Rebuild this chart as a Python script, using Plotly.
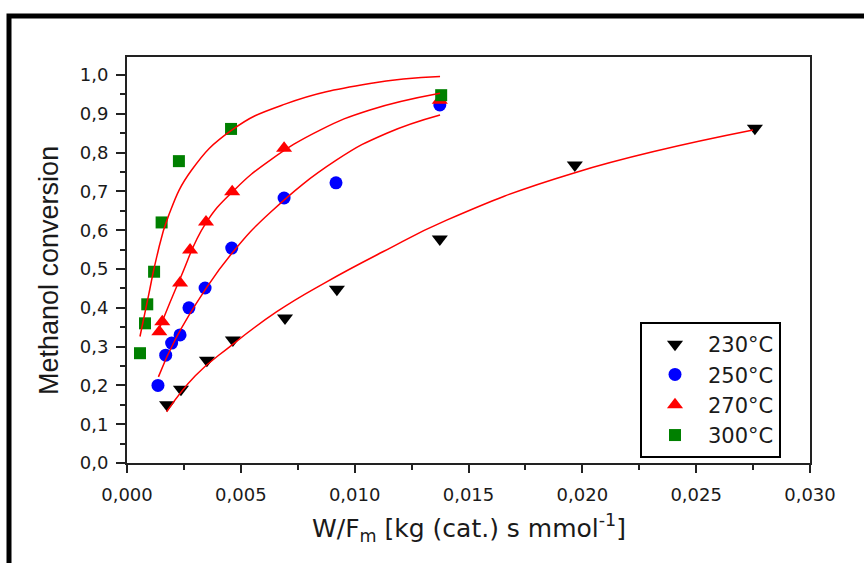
import plotly.graph_objects as go

# ---- data ----
x230 = [0.00176, 0.00237, 0.00351, 0.00465, 0.00694, 0.00922, 0.01374, 0.01967, 0.02758]
y230 = [0.150, 0.190, 0.265, 0.317, 0.374, 0.448, 0.577, 0.768, 0.863]

x250 = [0.00136, 0.00170, 0.00196, 0.00233, 0.00272, 0.00343, 0.00460, 0.00690, 0.00918, 0.01374]
y250 = [0.200, 0.278, 0.309, 0.330, 0.400, 0.451, 0.554, 0.683, 0.722, 0.923]

x270 = [0.00142, 0.00155, 0.00233, 0.00277, 0.00347, 0.00462, 0.00690, 0.01374]
y270 = [0.338, 0.364, 0.464, 0.549, 0.621, 0.699, 0.811, 0.935]

x300 = [0.00057, 0.00079, 0.00089, 0.00119, 0.00152, 0.00228, 0.00457, 0.01380]
y300 = [0.283, 0.360, 0.409, 0.493, 0.620, 0.778, 0.861, 0.948]

# fitted curves
fx230 = [0.00174, 0.00300, 0.00452, 0.00658, 0.00877, 0.01126, 0.01404, 0.01960, 0.02750]
fy230 = [0.132, 0.225, 0.300, 0.390, 0.467, 0.545, 0.626, 0.747, 0.858]

fx250 = [0.00138, 0.00211, 0.00343, 0.00460, 0.00628, 0.00921, 0.01141, 0.01375]
fy250 = [0.222, 0.317, 0.446, 0.540, 0.645, 0.781, 0.850, 0.897]

fx270 = [0.00138, 0.00233, 0.00343, 0.00474, 0.00628, 0.00848, 0.01067, 0.01375]
fy270 = [0.340, 0.475, 0.615, 0.705, 0.780, 0.858, 0.910, 0.953]

fx300 = [0.00057, 0.00094, 0.00130, 0.00181, 0.00284, 0.00460, 0.00694, 0.01067, 0.01375]
fy300 = [0.326, 0.430, 0.530, 0.635, 0.755, 0.858, 0.925, 0.978, 0.996]

labels = ["230°C", "250°C", "270°C", "300°C"]

TICKFONT = dict(family="DejaVu Sans", size=18, color="#1a1a1a")

fig = go.Figure()

series = [
    (x230, y230, labels[0], "triangle-down", "#000000", 14),
    (x250, y250, labels[1], "circle", "#0000ff", 13),
    (x270, y270, labels[2], "triangle-up", "#ff0000", 14),
    (x300, y300, labels[3], "square", "#008000", 12),
]
for xs, ys, name, sym, col, sz in series:
    fig.add_trace(go.Scatter(
        x=xs, y=ys, mode="markers", name=name,
        marker=dict(symbol=sym, color=col, size=sz, line=dict(width=0)),
    ))

for fx, fy in [(fx230, fy230), (fx250, fy250), (fx270, fy270), (fx300, fy300)]:
    fig.add_trace(go.Scatter(
        x=fx, y=fy, mode="lines", showlegend=False, hoverinfo="skip",
        line=dict(color="#ff0000", width=1.5, shape="spline", smoothing=1.3),
    ))

fig.update_layout(
    width=864, height=563,
    margin=dict(l=127, r=54, t=57, b=100),
    paper_bgcolor="white", plot_bgcolor="white",
    separators=",.",
    font=dict(family="DejaVu Sans", color="#1a1a1a"),
    showlegend=True,
    legend=dict(
        x=(640 - 127) / 683, y=(463 - 322) / 406, xanchor="left", yanchor="top",
        bgcolor="white", bordercolor="#000000", borderwidth=2,
        font=dict(family="DejaVu Sans", size=21, color="#1a1a1a"),
        itemwidth=56, tracegroupgap=0,
    ),
    xaxis=dict(
        range=[0, 0.030], tickmode="linear", tick0=0, dtick=0.005, tickformat=".3f",
        showgrid=False, zeroline=False, showline=True, linecolor="#222", linewidth=2,
        mirror=True, ticks="outside", ticklen=8, tickwidth=2, tickcolor="#222",
        minor=dict(ticks="outside", ticklen=5, tickwidth=1.5, tickcolor="#222", dtick=0.0025, showgrid=False),
        tickfont=TICKFONT, ticklabelstandoff=6,
    ),
    yaxis=dict(
        range=[0, 406 / 388], tickmode="linear", tick0=0, dtick=0.1, tickformat=".1f",
        showgrid=False, zeroline=False, showline=True, linecolor="#222", linewidth=2,
        mirror=True, ticks="outside", ticklen=9, tickwidth=2, tickcolor="#222",
        minor=dict(ticks="outside", ticklen=5, tickwidth=1.5, tickcolor="#222", dtick=0.05, showgrid=False),
        tickfont=TICKFONT, ticklabelstandoff=4,
    ),
    annotations=[
        dict(text="Methanol conversion", textangle=-90, xref="paper", yref="paper",
             x=(49 - 127) / 683, y=(463 - 271) / 406, xanchor="center", yanchor="middle",
             showarrow=False, font=dict(family="Liberation Sans", size=27, color="#1a1a1a")),
        dict(text="W/F<sub>m</sub> [kg (cat.) s mmol<sup>-1</sup>]", xref="paper", yref="paper",
             x=(469 - 127) / 683, y=(463 - 528) / 406, xanchor="center", yanchor="middle",
             showarrow=False, font=dict(family="DejaVu Sans", size=25, color="#1a1a1a")),
    ],
    shapes=[
        dict(type="rect", xref="paper", yref="paper",
             x0=(9 - 127) / 683, x1=(900 - 127) / 683,
             y0=(463 - 620) / 406, y1=(463 - 16) / 406,
             line=dict(color="#000000", width=5), fillcolor="rgba(0,0,0,0)", layer="below"),
    ],
)

fig.write_html("out.html")
